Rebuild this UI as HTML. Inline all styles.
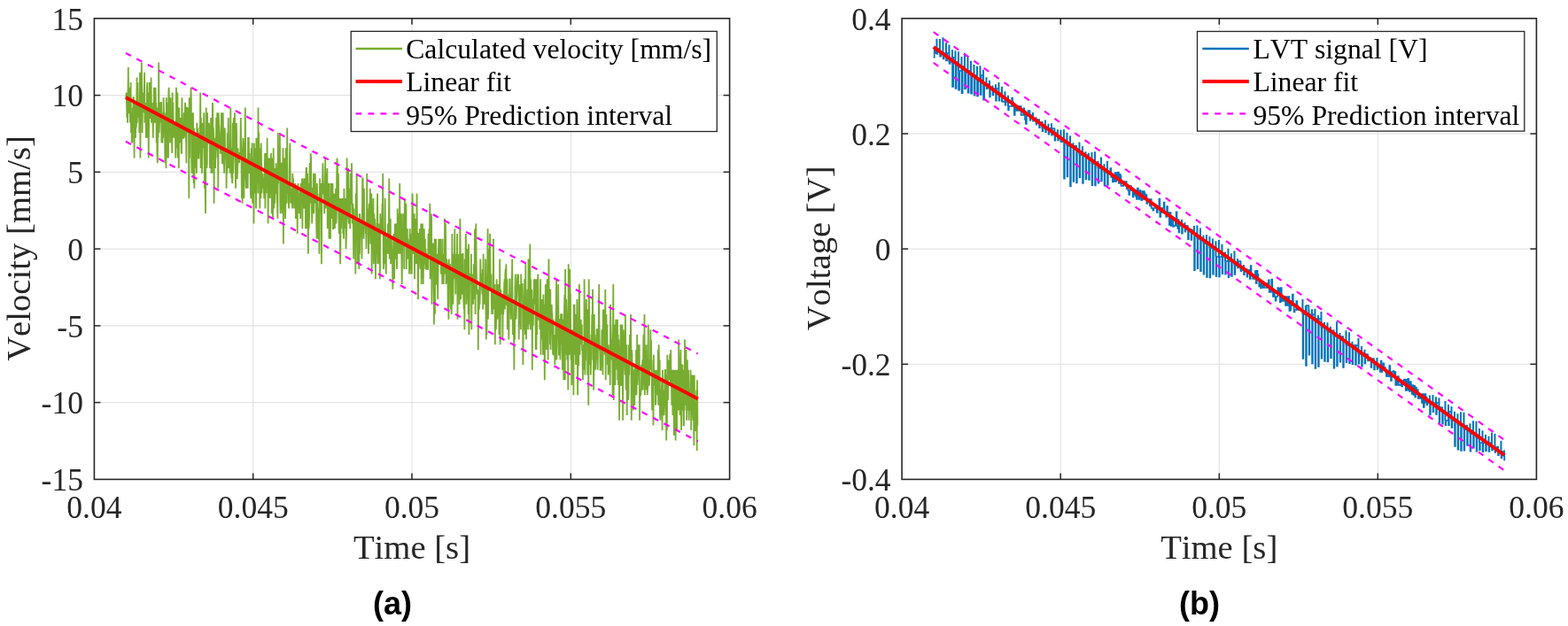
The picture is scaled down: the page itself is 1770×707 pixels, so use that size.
<!DOCTYPE html>
<html><head><meta charset="utf-8"><style>
html,body{margin:0;padding:0;background:#fff;}
body{width:1770px;height:707px;overflow:hidden;}
svg{display:block;font-kerning:none;}
.tk{font-family:"Liberation Serif",serif;font-size:35.5px;fill:#262626;}
.lab{font-family:"Liberation Serif",serif;font-size:38.7px;fill:#262626;}
.leg{font-family:"Liberation Serif",serif;font-size:31.7px;fill:#000;}
.let{font-family:"Liberation Sans",Arial,sans-serif;font-size:36px;font-weight:bold;fill:#000;}
</style></head><body>
<svg width="1770" height="707" viewBox="0 0 1770 707">
<rect width="1770" height="707" fill="#fff"/>

<line x1="285.7" y1="20.8" x2="285.7" y2="541.4" stroke="#dedede" stroke-width="1"/>
<line x1="465.0" y1="20.8" x2="465.0" y2="541.4" stroke="#dedede" stroke-width="1"/>
<line x1="644.3" y1="20.8" x2="644.3" y2="541.4" stroke="#dedede" stroke-width="1"/>
<line x1="106.4" y1="454.6" x2="823.6" y2="454.6" stroke="#dedede" stroke-width="1"/>
<line x1="106.4" y1="367.9" x2="823.6" y2="367.9" stroke="#dedede" stroke-width="1"/>
<line x1="106.4" y1="281.1" x2="823.6" y2="281.1" stroke="#dedede" stroke-width="1"/>
<line x1="106.4" y1="194.3" x2="823.6" y2="194.3" stroke="#dedede" stroke-width="1"/>
<line x1="106.4" y1="107.6" x2="823.6" y2="107.6" stroke="#dedede" stroke-width="1"/>
<line x1="1197.2" y1="20.8" x2="1197.2" y2="541.4" stroke="#dedede" stroke-width="1"/>
<line x1="1376.3" y1="20.8" x2="1376.3" y2="541.4" stroke="#dedede" stroke-width="1"/>
<line x1="1555.3" y1="20.8" x2="1555.3" y2="541.4" stroke="#dedede" stroke-width="1"/>
<line x1="1018.1" y1="411.3" x2="1734.4" y2="411.3" stroke="#dedede" stroke-width="1"/>
<line x1="1018.1" y1="281.1" x2="1734.4" y2="281.1" stroke="#dedede" stroke-width="1"/>
<line x1="1018.1" y1="151.0" x2="1734.4" y2="151.0" stroke="#dedede" stroke-width="1"/>
<polyline points="142.3,110.2 142.6,104.5 143.0,115.9 143.3,133.0 143.7,121.6 144.1,138.7 144.4,110.2 144.8,76.1 145.1,127.3 145.5,127.3 145.8,98.8 146.2,104.5 146.6,110.2 146.9,138.7 147.3,115.9 147.6,93.1 148.0,150.1 148.4,127.3 148.7,161.5 149.1,150.1 149.4,161.5 149.8,121.6 150.2,150.1 150.5,110.2 150.9,110.2 151.2,121.6 151.6,178.6 151.9,127.3 152.3,115.9 152.7,115.9 153.0,155.8 153.4,127.3 153.7,144.4 154.1,138.7 154.5,87.4 154.8,138.7 155.2,115.9 155.5,93.1 155.9,133.0 156.3,121.6 156.6,115.9 157.0,115.9 157.3,150.1 157.7,115.9 158.0,81.8 158.4,178.6 158.8,98.8 159.1,115.9 159.5,138.7 159.8,70.4 160.2,98.8 160.6,150.1 160.9,115.9 161.3,104.5 161.6,127.3 162.0,104.5 162.4,121.6 162.7,104.5 163.1,81.8 163.4,138.7 163.8,115.9 164.1,133.0 164.5,121.6 164.9,155.8 165.2,138.7 165.6,127.3 165.9,98.8 166.3,93.1 166.7,155.8 167.0,144.4 167.4,104.5 167.7,178.6 168.1,138.7 168.5,127.3 168.8,93.1 169.2,104.5 169.5,133.0 169.9,133.0 170.2,133.0 170.6,87.4 171.0,138.7 171.3,133.0 171.7,115.9 172.0,127.3 172.4,133.0 172.8,155.8 173.1,127.3 173.5,138.7 173.8,98.8 174.2,110.2 174.6,127.3 174.9,110.2 175.3,138.7 175.6,98.8 176.0,127.3 176.3,115.9 176.7,161.5 177.1,121.6 177.4,172.9 177.8,184.3 178.1,138.7 178.5,155.8 178.9,127.3 179.2,70.4 179.6,150.1 179.9,144.4 180.3,127.3 180.7,115.9 181.0,133.0 181.4,138.7 181.7,115.9 182.1,115.9 182.4,161.5 182.8,133.0 183.2,133.0 183.5,161.5 183.9,127.3 184.2,155.8 184.6,110.2 185.0,127.3 185.3,133.0 185.7,150.1 186.0,138.7 186.4,184.3 186.8,161.5 187.1,127.3 187.5,190.0 187.8,110.2 188.2,178.6 188.5,115.9 188.9,155.8 189.3,115.9 189.6,133.0 190.0,178.6 190.3,104.5 190.7,98.8 191.1,138.7 191.4,144.4 191.8,138.7 192.1,161.5 192.5,110.2 192.9,150.1 193.2,138.7 193.6,155.8 193.9,155.8 194.3,172.9 194.6,104.5 195.0,144.4 195.4,115.9 195.7,138.7 196.1,155.8 196.4,150.1 196.8,155.8 197.2,138.7 197.5,150.1 197.9,150.1 198.2,178.6 198.6,161.5 199.0,98.8 199.3,155.8 199.7,167.2 200.0,133.0 200.4,104.5 200.7,178.6 201.1,144.4 201.5,155.8 201.8,190.0 202.2,121.6 202.5,144.4 202.9,138.7 203.3,161.5 203.6,133.0 204.0,155.8 204.3,144.4 204.7,172.9 205.0,172.9 205.4,110.2 205.8,155.8 206.1,138.7 206.5,144.4 206.8,155.8 207.2,155.8 207.6,127.3 207.9,155.8 208.3,150.1 208.6,144.4 209.0,115.9 209.4,127.3 209.7,138.7 210.1,161.5 210.4,184.3 210.8,121.6 211.1,121.6 211.5,150.1 211.9,133.0 212.2,127.3 212.6,127.3 212.9,121.6 213.3,224.1 213.7,110.2 214.0,178.6 214.4,127.3 214.7,138.7 215.1,127.3 215.5,98.8 215.8,110.2 216.2,178.6 216.5,195.7 216.9,127.3 217.2,178.6 217.6,150.1 218.0,127.3 218.3,195.7 218.7,207.1 219.0,144.4 219.4,212.8 219.8,155.8 220.1,150.1 220.5,172.9 220.8,190.0 221.2,155.8 221.6,178.6 221.9,195.7 222.3,138.7 222.6,155.8 223.0,144.4 223.3,178.6 223.7,172.9 224.1,178.6 224.4,178.6 224.8,150.1 225.1,172.9 225.5,144.4 225.9,144.4 226.2,104.5 226.6,190.0 226.9,133.0 227.3,155.8 227.7,155.8 228.0,195.7 228.4,167.2 228.7,138.7 229.1,155.8 229.4,155.8 229.8,167.2 230.2,127.3 230.5,155.8 230.9,212.8 231.2,172.9 231.6,207.1 232.0,241.2 232.3,172.9 232.7,121.6 233.0,155.8 233.4,190.0 233.8,184.3 234.1,127.3 234.5,155.8 234.8,155.8 235.2,161.5 235.5,161.5 235.9,138.7 236.3,144.4 236.6,155.8 237.0,190.0 237.3,150.1 237.7,178.6 238.1,133.0 238.4,195.7 238.8,167.2 239.1,161.5 239.5,195.7 239.9,115.9 240.2,121.6 240.6,172.9 240.9,144.4 241.3,155.8 241.6,229.8 242.0,155.8 242.4,167.2 242.7,161.5 243.1,190.0 243.4,172.9 243.8,167.2 244.2,133.0 244.5,155.8 244.9,167.2 245.2,127.3 245.6,178.6 246.0,172.9 246.3,212.8 246.7,127.3 247.0,138.7 247.4,144.4 247.7,150.1 248.1,161.5 248.5,161.5 248.8,172.9 249.2,172.9 249.5,167.2 249.9,127.3 250.3,155.8 250.6,167.2 251.0,184.3 251.3,184.3 251.7,127.3 252.1,155.8 252.4,167.2 252.8,178.6 253.1,195.7 253.5,172.9 253.8,144.4 254.2,178.6 254.6,178.6 254.9,178.6 255.3,167.2 255.6,212.8 256.0,178.6 256.4,195.7 256.7,150.1 257.1,190.0 257.4,155.8 257.8,133.0 258.2,178.6 258.5,190.0 258.9,167.2 259.2,172.9 259.6,195.7 259.9,161.5 260.3,121.6 260.7,178.6 261.0,178.6 261.4,201.4 261.7,167.2 262.1,207.1 262.5,201.4 262.8,138.7 263.2,195.7 263.5,144.4 263.9,133.0 264.3,167.2 264.6,161.5 265.0,127.3 265.3,178.6 265.7,190.0 266.0,212.8 266.4,172.9 266.8,138.7 267.1,150.1 267.5,201.4 267.8,201.4 268.2,190.0 268.6,167.2 268.9,184.3 269.3,172.9 269.6,172.9 270.0,184.3 270.4,178.6 270.7,172.9 271.1,178.6 271.4,167.2 271.8,133.0 272.1,161.5 272.5,178.6 272.9,224.1 273.2,167.2 273.6,229.8 273.9,218.4 274.3,155.8 274.7,161.5 275.0,184.3 275.4,224.1 275.7,190.0 276.1,201.4 276.5,167.2 276.8,121.6 277.2,178.6 277.5,201.4 277.9,212.8 278.2,184.3 278.6,190.0 279.0,212.8 279.3,178.6 279.7,212.8 280.0,155.8 280.4,155.8 280.8,155.8 281.1,195.7 281.5,172.9 281.8,190.0 282.2,195.7 282.6,195.7 282.9,218.4 283.3,224.1 283.6,167.2 284.0,190.0 284.3,178.6 284.7,161.5 285.1,229.8 285.4,207.1 285.8,184.3 286.1,178.6 286.5,252.6 286.9,161.5 287.2,184.3 287.6,218.4 287.9,212.8 288.3,167.2 288.7,178.6 289.0,235.5 289.4,155.8 289.7,172.9 290.1,155.8 290.4,201.4 290.8,195.7 291.2,218.4 291.5,121.6 291.9,195.7 292.2,150.1 292.6,207.1 293.0,184.3 293.3,235.5 293.7,201.4 294.0,167.2 294.4,224.1 294.7,161.5 295.1,184.3 295.5,218.4 295.8,207.1 296.2,201.4 296.5,195.7 296.9,207.1 297.3,212.8 297.6,201.4 298.0,218.4 298.3,224.1 298.7,195.7 299.1,172.9 299.4,235.5 299.8,195.7 300.1,212.8 300.5,218.4 300.8,172.9 301.2,207.1 301.6,155.8 301.9,212.8 302.3,184.3 302.6,252.6 303.0,212.8 303.4,178.6 303.7,201.4 304.1,178.6 304.4,195.7 304.8,224.1 305.2,201.4 305.5,195.7 305.9,172.9 306.2,218.4 306.6,195.7 306.9,241.2 307.3,178.6 307.7,224.1 308.0,246.9 308.4,201.4 308.7,167.2 309.1,235.5 309.5,229.8 309.8,218.4 310.2,229.8 310.5,190.0 310.9,218.4 311.3,218.4 311.6,184.3 312.0,218.4 312.3,190.0 312.7,224.1 313.0,229.8 313.4,246.9 313.8,150.1 314.1,207.1 314.5,195.7 314.8,201.4 315.2,195.7 315.6,201.4 315.9,150.1 316.3,229.8 316.6,241.2 317.0,229.8 317.4,235.5 317.7,184.3 318.1,184.3 318.4,229.8 318.8,241.2 319.1,212.8 319.5,167.2 319.9,275.4 320.2,190.0 320.6,235.5 320.9,178.6 321.3,235.5 321.7,212.8 322.0,246.9 322.4,229.8 322.7,167.2 323.1,184.3 323.5,218.4 323.8,229.8 324.2,144.4 324.5,218.4 324.9,207.1 325.2,207.1 325.6,207.1 326.0,235.5 326.3,207.1 326.7,207.1 327.0,172.9 327.4,161.5 327.8,212.8 328.1,229.8 328.5,212.8 328.8,224.1 329.2,229.8 329.6,212.8 329.9,235.5 330.3,195.7 330.6,212.8 331.0,201.4 331.3,212.8 331.7,229.8 332.1,235.5 332.4,218.4 332.8,224.1 333.1,207.1 333.5,212.8 333.9,246.9 334.2,212.8 334.6,246.9 334.9,229.8 335.3,218.4 335.7,264.0 336.0,212.8 336.4,207.1 336.7,218.4 337.1,224.1 337.4,224.1 337.8,241.2 338.2,218.4 338.5,229.8 338.9,212.8 339.2,246.9 339.6,207.1 340.0,212.8 340.3,218.4 340.7,224.1 341.0,201.4 341.4,258.3 341.8,201.4 342.1,207.1 342.5,207.1 342.8,207.1 343.2,235.5 343.5,224.1 343.9,201.4 344.3,207.1 344.6,212.8 345.0,258.3 345.3,201.4 345.7,190.0 346.1,190.0 346.4,212.8 346.8,258.3 347.1,195.7 347.5,224.1 347.9,286.8 348.2,207.1 348.6,258.3 348.9,252.6 349.3,235.5 349.6,184.3 350.0,229.8 350.4,212.8 350.7,172.9 351.1,178.6 351.4,224.1 351.8,229.8 352.2,252.6 352.5,241.2 352.9,212.8 353.2,212.8 353.6,218.4 354.0,195.7 354.3,241.2 354.7,224.1 355.0,201.4 355.4,207.1 355.7,195.7 356.1,212.8 356.5,229.8 356.8,212.8 357.2,252.6 357.5,269.7 357.9,207.1 358.3,224.1 358.6,218.4 359.0,269.7 359.3,235.5 359.7,241.2 360.1,246.9 360.4,286.8 360.8,235.5 361.1,201.4 361.5,218.4 361.8,241.2 362.2,229.8 362.6,207.1 362.9,298.2 363.3,229.8 363.6,212.8 364.0,207.1 364.4,184.3 364.7,195.7 365.1,218.4 365.4,218.4 365.8,207.1 366.2,241.2 366.5,229.8 366.9,207.1 367.2,178.6 367.6,235.5 367.9,229.8 368.3,224.1 368.7,195.7 369.0,229.8 369.4,190.0 369.7,258.3 370.1,235.5 370.5,235.5 370.8,212.8 371.2,207.1 371.5,269.7 371.9,258.3 372.3,224.1 372.6,246.9 373.0,269.7 373.3,207.1 373.7,218.4 374.0,218.4 374.4,246.9 374.8,207.1 375.1,241.2 375.5,207.1 375.8,258.3 376.2,258.3 376.6,229.8 376.9,252.6 377.3,218.4 377.6,229.8 378.0,258.3 378.3,235.5 378.7,246.9 379.1,212.8 379.4,252.6 379.8,246.9 380.1,207.1 380.5,178.6 380.9,184.3 381.2,235.5 381.6,229.8 381.9,195.7 382.3,241.2 382.7,264.0 383.0,235.5 383.4,224.1 383.7,258.3 384.1,298.2 384.4,275.4 384.8,224.1 385.2,258.3 385.5,241.2 385.9,235.5 386.2,224.1 386.6,246.9 387.0,224.1 387.3,264.0 387.7,246.9 388.0,269.7 388.4,212.8 388.8,241.2 389.1,258.3 389.5,252.6 389.8,246.9 390.2,224.1 390.5,281.1 390.9,269.7 391.3,252.6 391.6,178.6 392.0,218.4 392.3,246.9 392.7,224.1 393.1,190.0 393.4,246.9 393.8,252.6 394.1,212.8 394.5,229.8 394.9,224.1 395.2,258.3 395.6,195.7 395.9,201.4 396.3,229.8 396.6,229.8 397.0,184.3 397.4,229.8 397.7,252.6 398.1,235.5 398.4,229.8 398.8,252.6 399.2,292.5 399.5,235.5 399.9,264.0 400.2,252.6 400.6,264.0 401.0,258.3 401.3,309.6 401.7,218.4 402.0,241.2 402.4,218.4 402.7,195.7 403.1,246.9 403.5,298.2 403.8,269.7 404.2,281.1 404.5,264.0 404.9,246.9 405.3,303.9 405.6,241.2 406.0,286.8 406.3,241.2 406.7,252.6 407.1,258.3 407.4,252.6 407.8,264.0 408.1,269.7 408.5,292.5 408.8,252.6 409.2,201.4 409.6,201.4 409.9,218.4 410.3,235.5 410.6,269.7 411.0,212.8 411.4,252.6 411.7,252.6 412.1,258.3 412.4,252.6 412.8,264.0 413.2,258.3 413.5,281.1 413.9,264.0 414.2,195.7 414.6,258.3 414.9,258.3 415.3,241.2 415.7,235.5 416.0,286.8 416.4,258.3 416.7,229.8 417.1,246.9 417.5,252.6 417.8,212.8 418.2,275.4 418.5,252.6 418.9,269.7 419.3,218.4 419.6,309.6 420.0,275.4 420.3,269.7 420.7,241.2 421.0,241.2 421.4,224.1 421.8,298.2 422.1,241.2 422.5,264.0 422.8,275.4 423.2,246.9 423.6,281.1 423.9,315.3 424.3,269.7 424.6,298.2 425.0,275.4 425.4,252.6 425.7,252.6 426.1,218.4 426.4,264.0 426.8,298.2 427.1,281.1 427.5,286.8 427.9,292.5 428.2,252.6 428.6,281.1 428.9,315.3 429.3,241.2 429.7,264.0 430.0,252.6 430.4,258.3 430.7,246.9 431.1,264.0 431.5,229.8 431.8,252.6 432.2,195.7 432.5,252.6 432.9,303.9 433.2,269.7 433.6,269.7 434.0,258.3 434.3,298.2 434.7,224.1 435.0,264.0 435.4,298.2 435.8,309.6 436.1,275.4 436.5,269.7 436.8,286.8 437.2,264.0 437.6,281.1 437.9,252.6 438.3,286.8 438.6,269.7 439.0,241.2 439.3,201.4 439.7,292.5 440.1,281.1 440.4,292.5 440.8,246.9 441.1,298.2 441.5,281.1 441.9,269.7 442.2,292.5 442.6,292.5 442.9,281.1 443.3,326.7 443.7,309.6 444.0,281.1 444.4,264.0 444.7,275.4 445.1,315.3 445.4,281.1 445.8,252.6 446.2,258.3 446.5,275.4 446.9,292.5 447.2,252.6 447.6,286.8 448.0,303.9 448.3,292.5 448.7,235.5 449.0,264.0 449.4,241.2 449.8,286.8 450.1,246.9 450.5,286.8 450.8,275.4 451.2,207.1 451.5,252.6 451.9,286.8 452.3,275.4 452.6,264.0 453.0,241.2 453.3,286.8 453.7,321.0 454.1,281.1 454.4,275.4 454.8,275.4 455.1,241.2 455.5,269.7 455.9,252.6 456.2,303.9 456.6,252.6 456.9,224.1 457.3,258.3 457.6,269.7 458.0,275.4 458.4,229.8 458.7,303.9 459.1,281.1 459.4,264.0 459.8,258.3 460.2,292.5 460.5,269.7 460.9,286.8 461.2,275.4 461.6,281.1 462.0,309.6 462.3,281.1 462.7,258.3 463.0,303.9 463.4,286.8 463.7,264.0 464.1,309.6 464.5,275.4 464.8,309.6 465.2,252.6 465.5,218.4 465.9,229.8 466.3,286.8 466.6,264.0 467.0,281.1 467.3,281.1 467.7,241.2 468.0,315.3 468.4,252.6 468.8,286.8 469.1,246.9 469.5,281.1 469.8,298.2 470.2,275.4 470.6,218.4 470.9,281.1 471.3,269.7 471.6,298.2 472.0,338.1 472.4,264.0 472.7,264.0 473.1,281.1 473.4,281.1 473.8,258.3 474.1,298.2 474.5,303.9 474.9,292.5 475.2,252.6 475.6,321.0 475.9,258.3 476.3,303.9 476.7,315.3 477.0,252.6 477.4,292.5 477.7,321.0 478.1,298.2 478.5,264.0 478.8,258.3 479.2,298.2 479.5,275.4 479.9,269.7 480.2,303.9 480.6,281.1 481.0,292.5 481.3,303.9 481.7,303.9 482.0,286.8 482.4,286.8 482.8,303.9 483.1,303.9 483.5,264.0 483.8,286.8 484.2,269.7 484.6,258.3 484.9,275.4 485.3,229.8 485.6,315.3 486.0,269.7 486.3,298.2 486.7,241.2 487.1,246.9 487.4,343.8 487.8,321.0 488.1,275.4 488.5,275.4 488.9,275.4 489.2,298.2 489.6,281.1 489.9,366.5 490.3,298.2 490.7,269.7 491.0,355.1 491.4,281.1 491.7,321.0 492.1,269.7 492.4,303.9 492.8,321.0 493.2,286.8 493.5,321.0 493.9,321.0 494.2,338.1 494.6,298.2 495.0,281.1 495.3,269.7 495.7,298.2 496.0,269.7 496.4,298.2 496.8,298.2 497.1,281.1 497.5,269.7 497.8,309.6 498.2,303.9 498.5,303.9 498.9,298.2 499.3,321.0 499.6,269.7 500.0,309.6 500.3,286.8 500.7,321.0 501.1,292.5 501.4,292.5 501.8,309.6 502.1,246.9 502.5,292.5 502.9,252.6 503.2,275.4 503.6,321.0 503.9,309.6 504.3,292.5 504.6,298.2 505.0,298.2 505.4,309.6 505.7,349.4 506.1,309.6 506.4,360.8 506.8,292.5 507.2,321.0 507.5,321.0 507.9,309.6 508.2,298.2 508.6,343.8 509.0,349.4 509.3,332.4 509.7,355.1 510.0,332.4 510.4,264.0 510.7,332.4 511.1,286.8 511.5,343.8 511.8,298.2 512.2,315.3 512.5,309.6 512.9,292.5 513.3,258.3 513.6,303.9 514.0,303.9 514.3,332.4 514.7,292.5 515.1,315.3 515.4,286.8 515.8,309.6 516.1,264.0 516.5,360.8 516.8,315.3 517.2,286.8 517.6,315.3 517.9,326.7 518.3,315.3 518.6,343.8 519.0,303.9 519.4,246.9 519.7,281.1 520.1,338.1 520.4,332.4 520.8,321.0 521.2,286.8 521.5,332.4 521.9,326.7 522.2,286.8 522.6,286.8 522.9,321.0 523.3,338.1 523.7,349.4 524.0,332.4 524.4,372.2 524.7,292.5 525.1,326.7 525.5,298.2 525.8,264.0 526.2,281.1 526.5,343.8 526.9,292.5 527.3,281.1 527.6,332.4 528.0,338.1 528.3,315.3 528.7,355.1 529.0,275.4 529.4,377.9 529.8,343.8 530.1,321.0 530.5,321.0 530.8,309.6 531.2,309.6 531.6,321.0 531.9,286.8 532.3,372.2 532.6,315.3 533.0,338.1 533.4,315.3 533.7,309.6 534.1,343.8 534.4,332.4 534.8,298.2 535.1,309.6 535.5,338.1 535.9,264.0 536.2,258.3 536.6,355.1 536.9,309.6 537.3,252.6 537.7,298.2 538.0,315.3 538.4,326.7 538.7,332.4 539.1,326.7 539.5,332.4 539.8,395.0 540.2,332.4 540.5,332.4 540.9,349.4 541.2,321.0 541.6,343.8 542.0,326.7 542.3,292.5 542.7,309.6 543.0,309.6 543.4,315.3 543.8,321.0 544.1,326.7 544.5,332.4 544.8,303.9 545.2,349.4 545.6,286.8 545.9,321.0 546.3,343.8 546.6,338.1 547.0,343.8 547.3,321.0 547.7,343.8 548.1,292.5 548.4,343.8 548.8,383.6 549.1,343.8 549.5,377.9 549.9,326.7 550.2,298.2 550.6,258.3 550.9,360.8 551.3,343.8 551.7,281.1 552.0,321.0 552.4,326.7 552.7,298.2 553.1,264.0 553.4,292.5 553.8,326.7 554.2,321.0 554.5,309.6 554.9,343.8 555.2,355.1 555.6,326.7 556.0,355.1 556.3,332.4 556.7,326.7 557.0,269.7 557.4,349.4 557.7,332.4 558.1,332.4 558.5,321.0 558.8,389.3 559.2,343.8 559.5,349.4 559.9,372.2 560.3,355.1 560.6,315.3 561.0,332.4 561.3,360.8 561.7,343.8 562.1,332.4 562.4,321.0 562.8,349.4 563.1,338.1 563.5,377.9 563.8,360.8 564.2,292.5 564.6,389.3 564.9,343.8 565.3,326.7 565.6,343.8 566.0,355.1 566.4,338.1 566.7,332.4 567.1,338.1 567.4,383.6 567.8,338.1 568.2,355.1 568.5,349.4 568.9,332.4 569.2,321.0 569.6,315.3 569.9,349.4 570.3,309.6 570.7,303.9 571.0,309.6 571.4,298.2 571.7,343.8 572.1,343.8 572.5,315.3 572.8,372.2 573.2,332.4 573.5,349.4 573.9,349.4 574.3,383.6 574.6,360.8 575.0,338.1 575.3,315.3 575.7,315.3 576.0,343.8 576.4,343.8 576.8,360.8 577.1,332.4 577.5,349.4 577.8,326.7 578.2,292.5 578.6,343.8 578.9,377.9 579.3,360.8 579.6,377.9 580.0,372.2 580.4,417.8 580.7,338.1 581.1,383.6 581.4,326.7 581.8,309.6 582.1,349.4 582.5,360.8 582.9,349.4 583.2,338.1 583.6,326.7 583.9,315.3 584.3,309.6 584.7,315.3 585.0,309.6 585.4,326.7 585.7,383.6 586.1,349.4 586.5,338.1 586.8,355.1 587.2,321.0 587.5,355.1 587.9,372.2 588.2,309.6 588.6,326.7 589.0,338.1 589.3,321.0 589.7,321.0 590.0,338.1 590.4,412.1 590.8,366.5 591.1,360.8 591.5,372.2 591.8,343.8 592.2,315.3 592.6,360.8 592.9,377.9 593.3,298.2 593.6,360.8 594.0,383.6 594.3,343.8 594.7,338.1 595.1,366.5 595.4,326.7 595.8,360.8 596.1,372.2 596.5,292.5 596.9,332.4 597.2,366.5 597.6,343.8 597.9,355.1 598.3,275.4 598.7,372.2 599.0,315.3 599.4,355.1 599.7,355.1 600.1,332.4 600.4,326.7 600.8,417.8 601.2,343.8 601.5,366.5 601.9,366.5 602.2,338.1 602.6,338.1 603.0,315.3 603.3,343.8 603.7,326.7 604.0,315.3 604.4,349.4 604.8,395.0 605.1,383.6 605.5,395.0 605.8,315.3 606.2,377.9 606.5,321.0 606.9,338.1 607.3,309.6 607.6,332.4 608.0,360.8 608.3,360.8 608.7,355.1 609.1,355.1 609.4,372.2 609.8,360.8 610.1,315.3 610.5,400.7 610.9,349.4 611.2,383.6 611.6,355.1 611.9,338.1 612.3,360.8 612.6,338.1 613.0,400.7 613.4,332.4 613.7,372.2 614.1,343.8 614.4,355.1 614.8,429.2 615.2,377.9 615.5,355.1 615.9,321.0 616.2,355.1 616.6,355.1 617.0,395.0 617.3,326.7 617.7,315.3 618.0,360.8 618.4,366.5 618.7,406.4 619.1,338.1 619.5,292.5 619.8,343.8 620.2,332.4 620.5,349.4 620.9,389.3 621.3,326.7 621.6,395.0 622.0,366.5 622.3,355.1 622.7,343.8 623.1,355.1 623.4,355.1 623.8,383.6 624.1,400.7 624.5,360.8 624.8,383.6 625.2,400.7 625.6,400.7 625.9,377.9 626.3,412.1 626.6,400.7 627.0,406.4 627.4,360.8 627.7,355.1 628.1,315.3 628.4,406.4 628.8,383.6 629.2,343.8 629.5,372.2 629.9,377.9 630.2,321.0 630.6,377.9 630.9,400.7 631.3,400.7 631.7,360.8 632.0,360.8 632.4,406.4 632.7,395.0 633.1,355.1 633.5,355.1 633.8,389.3 634.2,355.1 634.5,355.1 634.9,417.8 635.3,377.9 635.6,360.8 636.0,383.6 636.3,429.2 636.7,377.9 637.0,349.4 637.4,332.4 637.8,429.2 638.1,303.9 638.5,400.7 638.8,349.4 639.2,338.1 639.6,349.4 639.9,366.5 640.3,406.4 640.6,355.1 641.0,395.0 641.3,440.6 641.7,298.2 642.1,355.1 642.4,326.7 642.8,400.7 643.1,303.9 643.5,332.4 643.9,332.4 644.2,377.9 644.6,406.4 644.9,377.9 645.3,434.9 645.7,417.8 646.0,372.2 646.4,400.7 646.7,383.6 647.1,377.9 647.4,446.3 647.8,343.8 648.2,377.9 648.5,343.8 648.9,400.7 649.2,389.3 649.6,355.1 650.0,412.1 650.3,383.6 650.7,412.1 651.0,377.9 651.4,338.1 651.8,400.7 652.1,446.3 652.5,400.7 652.8,412.1 653.2,412.1 653.5,343.8 653.9,321.0 654.3,366.5 654.6,400.7 655.0,360.8 655.3,389.3 655.7,360.8 656.1,372.2 656.4,372.2 656.8,366.5 657.1,395.0 657.5,395.0 657.9,429.2 658.2,395.0 658.6,417.8 658.9,389.3 659.3,406.4 659.6,315.3 660.0,372.2 660.4,423.5 660.7,406.4 661.1,406.4 661.4,366.5 661.8,338.1 662.2,360.8 662.5,395.0 662.9,349.4 663.2,423.5 663.6,349.4 664.0,400.7 664.3,457.7 664.7,315.3 665.0,343.8 665.4,412.1 665.7,383.6 666.1,395.0 666.5,383.6 666.8,423.5 667.2,406.4 667.5,377.9 667.9,383.6 668.3,355.1 668.6,383.6 669.0,326.7 669.3,406.4 669.7,383.6 670.1,440.6 670.4,423.5 670.8,355.1 671.1,412.1 671.5,377.9 671.8,389.3 672.2,417.8 672.6,400.7 672.9,406.4 673.3,400.7 673.6,372.2 674.0,372.2 674.4,406.4 674.7,417.8 675.1,383.6 675.4,395.0 675.8,366.5 676.2,321.0 676.5,372.2 676.9,395.0 677.2,395.0 677.6,417.8 677.9,417.8 678.3,417.8 678.7,406.4 679.0,406.4 679.4,372.2 679.7,406.4 680.1,400.7 680.5,423.5 680.8,349.4 681.2,383.6 681.5,349.4 681.9,372.2 682.3,355.1 682.6,400.7 683.0,377.9 683.3,326.7 683.7,429.2 684.0,366.5 684.4,355.1 684.8,383.6 685.1,377.9 685.5,366.5 685.8,412.1 686.2,389.3 686.6,423.5 686.9,417.8 687.3,412.1 687.6,400.7 688.0,395.0 688.4,389.3 688.7,434.9 689.1,343.8 689.4,366.5 689.8,377.9 690.1,406.4 690.5,400.7 690.9,383.6 691.2,389.3 691.6,446.3 691.9,383.6 692.3,321.0 692.7,452.0 693.0,372.2 693.4,389.3 693.7,406.4 694.1,366.5 694.5,434.9 694.8,395.0 695.2,360.8 695.5,406.4 695.9,412.1 696.2,400.7 696.6,417.8 697.0,360.8 697.3,429.2 697.7,377.9 698.0,434.9 698.4,383.6 698.8,406.4 699.1,474.8 699.5,406.4 699.8,434.9 700.2,417.8 700.6,366.5 700.9,434.9 701.3,434.9 701.6,366.5 702.0,400.7 702.3,366.5 702.7,395.0 703.1,474.8 703.4,406.4 703.8,372.2 704.1,383.6 704.5,406.4 704.9,406.4 705.2,412.1 705.6,423.5 705.9,355.1 706.3,406.4 706.7,440.6 707.0,423.5 707.4,389.3 707.7,469.1 708.1,412.1 708.4,429.2 708.8,406.4 709.2,452.0 709.5,446.3 709.9,389.3 710.2,423.5 710.6,400.7 711.0,377.9 711.3,395.0 711.7,412.1 712.0,355.1 712.4,395.0 712.8,474.8 713.1,395.0 713.5,400.7 713.8,434.9 714.2,412.1 714.5,417.8 714.9,463.4 715.3,417.8 715.6,423.5 716.0,423.5 716.3,457.7 716.7,423.5 717.1,412.1 717.4,412.1 717.8,446.3 718.1,395.0 718.5,446.3 718.9,423.5 719.2,377.9 719.6,434.9 719.9,429.2 720.3,389.3 720.6,423.5 721.0,423.5 721.4,412.1 721.7,389.3 722.1,474.8 722.4,440.6 722.8,446.3 723.2,446.3 723.5,440.6 723.9,440.6 724.2,412.1 724.6,440.6 725.0,412.1 725.3,406.4 725.7,440.6 726.0,417.8 726.4,377.9 726.7,412.1 727.1,434.9 727.5,355.1 727.8,446.3 728.2,412.1 728.5,395.0 728.9,440.6 729.3,423.5 729.6,389.3 730.0,434.9 730.3,417.8 730.7,446.3 731.0,440.6 731.4,434.9 731.8,366.5 732.1,434.9 732.5,434.9 732.8,434.9 733.2,429.2 733.6,406.4 733.9,417.8 734.3,372.2 734.6,417.8 735.0,383.6 735.4,417.8 735.7,406.4 736.1,463.4 736.4,429.2 736.8,423.5 737.1,429.2 737.5,480.4 737.9,400.7 738.2,434.9 738.6,434.9 738.9,434.9 739.3,429.2 739.7,417.8 740.0,457.7 740.4,452.0 740.7,417.8 741.1,423.5 741.5,434.9 741.8,440.6 742.2,446.3 742.5,429.2 742.9,395.0 743.2,457.7 743.6,389.3 744.0,406.4 744.3,440.6 744.7,406.4 745.0,469.1 745.4,474.8 745.8,463.4 746.1,440.6 746.5,440.6 746.8,440.6 747.2,429.2 747.6,486.1 747.9,417.8 748.3,469.1 748.6,446.3 749.0,440.6 749.3,463.4 749.7,469.1 750.1,457.7 750.4,429.2 750.8,417.8 751.1,417.8 751.5,457.7 751.9,452.0 752.2,497.5 752.6,423.5 752.9,486.1 753.3,400.7 753.7,446.3 754.0,452.0 754.4,423.5 754.7,406.4 755.1,423.5 755.4,406.4 755.8,429.2 756.2,400.7 756.5,400.7 756.9,434.9 757.2,395.0 757.6,429.2 758.0,434.9 758.3,457.7 758.7,440.6 759.0,417.8 759.4,469.1 759.8,417.8 760.1,429.2 760.5,429.2 760.8,491.8 761.2,440.6 761.5,417.8 761.9,457.7 762.3,434.9 762.6,497.5 763.0,417.8 763.3,457.7 763.7,417.8 764.1,486.1 764.4,423.5 764.8,446.3 765.1,417.8 765.5,463.4 765.9,457.7 766.2,383.6 766.6,463.4 766.9,457.7 767.3,446.3 767.6,469.1 768.0,412.1 768.4,395.0 768.7,457.7 769.1,486.1 769.4,412.1 769.8,412.1 770.2,417.8 770.5,412.1 770.9,463.4 771.2,446.3 771.6,480.4 772.0,480.4 772.3,417.8 772.7,463.4 773.0,383.6 773.4,440.6 773.7,457.7 774.1,423.5 774.5,395.0 774.8,429.2 775.2,474.8 775.5,434.9 775.9,406.4 776.3,457.7 776.6,463.4 777.0,417.8 777.3,440.6 777.7,474.8 778.1,457.7 778.4,463.4 778.8,440.6 779.1,446.3 779.5,417.8 779.8,429.2 780.2,486.1 780.6,434.9 780.9,423.5 781.3,434.9 781.6,423.5 782.0,463.4 782.4,474.8 782.7,423.5 783.1,474.8 783.4,503.2 783.8,423.5 784.2,469.1 784.5,457.7 784.9,486.1 785.2,486.1 785.6,480.4 785.9,457.7 786.3,440.6 786.7,508.9 787.0,429.2 787.4,480.4 787.7,480.4" fill="none" stroke="#77ac30" stroke-width="1.8" stroke-linejoin="miter"/>
<line x1="141.9" y1="59.9" x2="787.9" y2="399.6" stroke="#ff00ff" stroke-width="2.2" stroke-dasharray="6.8 7.2"/>
<line x1="141.9" y1="159.8" x2="787.9" y2="498.5" stroke="#ff00ff" stroke-width="2.2" stroke-dasharray="6.8 7.2"/>
<line x1="141.9" y1="110.0" x2="787.9" y2="450.5" stroke="#ff0000" stroke-width="4.0" stroke-linecap="butt"/>
<path d="M1053.8,65.0 L1054.7,65.0 L1054.7,55.0 L1055.5,55.0 L1055.5,55.0 L1056.4,55.0 L1056.4,60.0 L1057.3,60.0 L1057.3,55.0 L1057.3,44.6 L1057.6,44.6 L1057.6,61.0 L1058.3,61.0 L1058.3,55.0 L1060.8,55.0 L1060.8,60.0 L1060.8,44.9 L1061.1,44.9 L1061.1,63.7 L1062.1,63.7 L1062.1,60.0 L1064.3,60.0 L1064.3,60.0 L1064.3,43.0 L1064.6,43.0 L1064.6,66.4 L1065.6,66.4 L1065.6,60.0 L1067.8,60.0 L1067.8,60.0 L1067.8,49.1 L1068.1,49.1 L1068.1,68.4 L1069.1,68.4 L1069.1,60.0 L1071.3,60.0 L1071.3,70.0 L1071.3,51.3 L1071.6,51.3 L1071.6,71.9 L1072.6,71.9 L1072.6,70.0 L1074.8,70.0 L1074.8,65.0 L1074.8,57.0 L1075.1,57.0 L1075.1,97.9 L1076.1,97.9 L1076.1,65.0 L1078.3,65.0 L1078.3,70.0 L1078.3,58.2 L1078.6,58.2 L1078.6,99.8 L1079.6,99.8 L1079.6,70.0 L1081.8,70.0 L1081.8,80.0 L1081.8,59.0 L1082.1,59.0 L1082.1,101.7 L1083.1,101.7 L1083.1,80.0 L1085.3,80.0 L1085.3,75.0 L1085.3,64.9 L1085.6,64.9 L1085.6,105.2 L1086.6,105.2 L1086.6,75.0 L1088.8,75.0 L1088.8,80.0 L1088.8,60.7 L1089.1,60.7 L1089.1,100.2 L1090.1,100.2 L1090.1,80.0 L1092.3,80.0 L1092.3,80.0 L1092.3,65.4 L1092.6,65.4 L1092.6,104.6 L1093.6,104.6 L1093.6,80.0 L1095.8,80.0 L1095.8,85.0 L1095.8,69.6 L1096.1,69.6 L1096.1,105.6 L1097.1,105.6 L1097.1,85.0 L1099.3,85.0 L1099.3,85.0 L1099.3,73.9 L1099.6,73.9 L1099.6,107.7 L1100.6,107.7 L1100.6,85.0 L1102.8,85.0 L1102.8,90.0 L1102.8,75.6 L1103.1,75.6 L1103.1,108.3 L1104.1,108.3 L1104.1,90.0 L1106.3,90.0 L1106.3,85.0 L1106.3,75.2 L1106.6,75.2 L1106.6,106.8 L1107.6,106.8 L1107.6,85.0 L1109.8,85.0 L1109.8,95.0 L1109.8,79.7 L1110.1,79.7 L1110.1,112.6 L1111.1,112.6 L1111.1,95.0 L1113.3,95.0 L1113.3,95.0 L1113.3,88.1 L1113.6,88.1 L1113.6,100.2 L1114.6,100.2 L1114.6,95.0 L1116.8,95.0 L1116.8,100.0 L1116.8,91.6 L1117.1,91.6 L1117.1,109.4 L1117.8,109.4 L1117.8,100.0 L1120.3,100.0 L1120.3,100.0 L1120.3,97.4 L1120.6,97.4 L1120.6,107.5 L1121.3,107.5 L1121.3,100.0 L1123.8,100.0 L1123.8,100.0 L1123.8,96.1 L1124.1,96.1 L1124.1,113.6 L1124.8,113.6 L1124.8,100.0 L1127.3,100.0 L1127.3,105.0 L1127.3,93.8 L1127.6,93.8 L1127.6,113.6 L1128.3,113.6 L1128.3,105.0 L1130.8,105.0 L1130.8,115.0 L1130.8,98.7 L1131.1,98.7 L1131.1,114.3 L1131.8,114.3 L1131.8,115.0 L1134.3,115.0 L1134.3,115.0 L1134.3,104.0 L1134.6,104.0 L1134.6,118.6 L1135.3,118.6 L1135.3,115.0 L1137.8,115.0 L1137.8,120.0 L1137.8,108.7 L1138.1,108.7 L1138.1,124.5 L1138.8,124.5 L1138.8,120.0 L1141.3,120.0 L1141.3,120.0 L1142.2,120.0 L1142.2,110.7 L1143.0,110.7 L1143.0,115.0 L1143.9,115.0 L1143.9,120.0 L1144.8,120.0 L1144.8,130.0 L1145.7,130.0 L1145.7,120.0 L1146.5,120.0 L1146.5,123.9 L1147.4,123.9 L1147.4,125.0 L1148.3,125.0 L1148.3,120.0 L1149.2,120.0 L1149.2,125.0 L1150.0,125.0 L1150.0,120.0 L1150.9,120.0 L1150.9,125.0 L1151.8,125.0 L1151.8,120.0 L1152.7,120.0 L1152.7,130.0 L1153.5,130.0 L1153.5,130.0 L1154.4,130.0 L1154.4,130.0 L1155.3,130.0 L1155.3,122.4 L1156.2,122.4 L1156.2,125.0 L1157.0,125.0 L1157.0,135.0 L1157.9,135.0 L1157.9,140.0 L1158.8,140.0 L1158.8,130.0 L1159.7,130.0 L1159.7,130.0 L1160.5,130.0 L1160.5,125.0 L1161.4,125.0 L1161.4,125.0 L1162.3,125.0 L1162.3,130.0 L1162.3,126.2 L1162.6,126.2 L1162.6,135.8 L1163.3,135.8 L1163.3,130.0 L1165.8,130.0 L1165.8,135.0 L1165.8,127.8 L1166.1,127.8 L1166.1,136.7 L1166.8,136.7 L1166.8,135.0 L1169.3,135.0 L1169.3,135.0 L1169.3,133.2 L1169.6,133.2 L1169.6,140.6 L1170.3,140.6 L1170.3,135.0 L1172.8,135.0 L1172.8,140.0 L1172.8,135.2 L1173.1,135.2 L1173.1,144.2 L1173.8,144.2 L1173.8,140.0 L1176.3,140.0 L1176.3,145.0 L1176.3,137.8 L1176.6,137.8 L1176.6,148.2 L1177.3,148.2 L1177.3,145.0 L1179.8,145.0 L1179.8,145.0 L1179.8,136.3 L1180.1,136.3 L1180.1,149.1 L1180.8,149.1 L1180.8,145.0 L1183.3,145.0 L1183.3,145.0 L1183.3,140.7 L1183.6,140.7 L1183.6,151.7 L1184.3,151.7 L1184.3,145.0 L1186.8,145.0 L1186.8,145.0 L1186.8,140.1 L1187.1,140.1 L1187.1,152.6 L1187.8,152.6 L1187.8,145.0 L1190.3,145.0 L1190.3,150.0 L1190.3,146.3 L1190.6,146.3 L1190.6,158.7 L1191.3,158.7 L1191.3,150.0 L1193.8,150.0 L1193.8,155.0 L1193.8,147.1 L1194.1,147.1 L1194.1,158.4 L1194.8,158.4 L1194.8,155.0 L1197.3,155.0 L1197.3,160.0 L1197.3,147.6 L1197.6,147.6 L1197.6,160.1 L1198.3,160.1 L1198.3,160.0 L1200.8,160.0 L1200.8,160.0 L1200.8,147.0 L1201.1,147.0 L1201.1,201.6 L1201.8,201.6 L1201.8,160.0 L1204.3,160.0 L1204.3,165.0 L1204.3,150.7 L1204.6,150.7 L1204.6,199.3 L1205.3,199.3 L1205.3,165.0 L1207.8,165.0 L1207.8,165.0 L1207.8,154.0 L1208.1,154.0 L1208.1,210.4 L1208.8,210.4 L1208.8,165.0 L1211.3,165.0 L1211.3,165.0 L1211.3,162.1 L1211.6,162.1 L1211.6,204.8 L1212.3,204.8 L1212.3,165.0 L1214.8,165.0 L1214.8,170.0 L1214.8,164.9 L1215.1,164.9 L1215.1,206.4 L1215.8,206.4 L1215.8,170.0 L1218.3,170.0 L1218.3,175.0 L1218.3,161.4 L1218.6,161.4 L1218.6,200.4 L1219.3,200.4 L1219.3,175.0 L1221.8,175.0 L1221.8,175.0 L1221.8,166.2 L1222.1,166.2 L1222.1,206.9 L1222.8,206.9 L1222.8,175.0 L1225.3,175.0 L1225.3,175.0 L1225.3,172.1 L1225.6,172.1 L1225.6,202.3 L1226.3,202.3 L1226.3,175.0 L1228.8,175.0 L1228.8,180.0 L1228.8,173.5 L1229.1,173.5 L1229.1,203.0 L1229.8,203.0 L1229.8,180.0 L1232.3,180.0 L1232.3,185.0 L1232.3,172.8 L1232.6,172.8 L1232.6,209.1 L1233.3,209.1 L1233.3,185.0 L1235.8,185.0 L1235.8,185.0 L1235.8,172.0 L1236.1,172.0 L1236.1,209.4 L1236.8,209.4 L1236.8,185.0 L1239.3,185.0 L1239.3,190.0 L1239.3,182.5 L1239.6,182.5 L1239.6,206.6 L1240.3,206.6 L1240.3,190.0 L1242.8,190.0 L1242.8,190.0 L1242.8,178.3 L1243.1,178.3 L1243.1,204.3 L1243.8,204.3 L1243.8,190.0 L1246.3,190.0 L1246.3,195.0 L1246.3,186.2 L1246.6,186.2 L1246.6,209.6 L1247.3,209.6 L1247.3,195.0 L1249.8,195.0 L1249.8,195.0 L1249.8,182.6 L1250.1,182.6 L1250.1,208.8 L1250.8,208.8 L1250.8,195.0 L1253.3,195.0 L1253.3,190.0 L1254.2,190.0 L1254.2,200.0 L1255.0,200.0 L1255.0,200.0 L1255.9,200.0 L1255.9,205.3 L1256.8,205.3 L1256.8,200.0 L1257.7,200.0 L1257.7,205.0 L1258.5,205.0 L1258.5,195.0 L1259.4,195.0 L1259.4,205.0 L1260.3,205.0 L1260.3,195.0 L1261.2,195.0 L1261.2,200.0 L1262.0,200.0 L1262.0,194.5 L1262.9,194.5 L1262.9,206.9 L1263.8,206.9 L1263.8,196.8 L1264.7,196.8 L1264.7,198.7 L1265.5,198.7 L1265.5,210.0 L1266.4,210.0 L1266.4,210.0 L1267.3,210.0 L1267.3,210.0 L1268.2,210.0 L1268.2,205.0 L1269.0,205.0 L1269.0,205.0 L1269.9,205.0 L1269.9,205.0 L1270.8,205.0 L1270.8,205.0 L1271.7,205.0 L1271.7,213.2 L1272.5,213.2 L1272.5,210.0 L1273.4,210.0 L1273.4,215.0 L1274.3,215.0 L1274.3,220.0 L1275.2,220.0 L1275.2,215.0 L1276.0,215.0 L1276.0,210.0 L1276.9,210.0 L1276.9,215.0 L1277.8,215.0 L1277.8,215.0 L1278.7,215.0 L1278.7,222.3 L1279.5,222.3 L1279.5,215.0 L1280.4,215.0 L1280.4,220.0 L1281.3,220.0 L1281.3,215.0 L1282.2,215.0 L1282.2,221.8 L1283.0,221.8 L1283.0,225.0 L1283.9,225.0 L1283.9,212.6 L1284.8,212.6 L1284.8,220.0 L1285.7,220.0 L1285.7,225.0 L1286.5,225.0 L1286.5,215.0 L1287.4,215.0 L1287.4,220.0 L1288.3,220.0 L1288.3,226.2 L1289.2,226.2 L1289.2,216.2 L1290.0,216.2 L1290.0,225.0 L1290.9,225.0 L1290.9,216.1 L1291.8,216.1 L1291.8,218.3 L1292.7,218.3 L1292.7,225.0 L1293.5,225.0 L1293.5,220.0 L1294.4,220.0 L1294.4,230.0 L1295.3,230.0 L1295.3,225.0 L1296.2,225.0 L1296.2,225.0 L1297.0,225.0 L1297.0,225.0 L1297.9,225.0 L1297.9,232.5 L1298.8,232.5 L1298.8,225.0 L1299.7,225.0 L1299.7,235.0 L1300.5,235.0 L1300.5,235.0 L1301.4,235.0 L1301.4,237.7 L1302.3,237.7 L1302.3,235.0 L1303.2,235.0 L1303.2,235.0 L1304.0,235.0 L1304.0,235.0 L1304.9,235.0 L1304.9,235.0 L1305.8,235.0 L1305.8,240.0 L1306.7,240.0 L1306.7,235.0 L1307.5,235.0 L1307.5,235.0 L1308.4,235.0 L1308.4,224.7 L1309.3,224.7 L1309.3,245.0 L1310.2,245.0 L1310.2,235.0 L1311.0,235.0 L1311.0,240.0 L1311.9,240.0 L1311.9,235.0 L1312.8,235.0 L1312.8,235.0 L1313.7,235.0 L1313.7,228.7 L1314.5,228.7 L1314.5,240.0 L1315.4,240.0 L1315.4,240.0 L1316.3,240.0 L1316.3,245.0 L1317.2,245.0 L1317.2,233.1 L1318.0,233.1 L1318.0,240.0 L1318.9,240.0 L1318.9,240.0 L1319.8,240.0 L1319.8,254.0 L1320.7,254.0 L1320.7,240.0 L1321.5,240.0 L1321.5,255.0 L1322.4,255.0 L1322.4,245.0 L1323.3,245.0 L1323.3,245.0 L1324.2,245.0 L1324.2,256.0 L1325.0,256.0 L1325.0,255.0 L1325.9,255.0 L1325.9,255.0 L1326.8,255.0 L1326.8,250.0 L1327.7,250.0 L1327.7,239.3 L1328.5,239.3 L1328.5,255.0 L1329.4,255.0 L1329.4,257.9 L1330.3,257.9 L1330.3,255.0 L1330.3,248.2 L1330.6,248.2 L1330.6,262.4 L1331.3,262.4 L1331.3,255.0 L1333.8,255.0 L1333.8,255.0 L1333.8,248.9 L1334.1,248.9 L1334.1,263.6 L1334.8,263.6 L1334.8,255.0 L1337.3,255.0 L1337.3,255.0 L1337.3,252.1 L1337.6,252.1 L1337.6,261.7 L1338.3,261.7 L1338.3,255.0 L1340.8,255.0 L1340.8,260.0 L1340.8,256.9 L1341.1,256.9 L1341.1,270.1 L1341.8,270.1 L1341.8,260.0 L1344.3,260.0 L1344.3,260.0 L1344.3,259.0 L1344.6,259.0 L1344.6,271.0 L1345.3,271.0 L1345.3,260.0 L1347.8,260.0 L1347.8,265.0 L1347.8,255.8 L1348.1,255.8 L1348.1,305.1 L1348.8,305.1 L1348.8,265.0 L1351.3,265.0 L1351.3,270.0 L1351.3,255.3 L1351.6,255.3 L1351.6,303.1 L1352.3,303.1 L1352.3,270.0 L1354.8,270.0 L1354.8,270.0 L1354.8,258.3 L1355.1,258.3 L1355.1,306.1 L1355.8,306.1 L1355.8,270.0 L1358.3,270.0 L1358.3,275.0 L1358.3,266.7 L1358.6,266.7 L1358.6,309.6 L1359.3,309.6 L1359.3,275.0 L1361.8,275.0 L1361.8,275.0 L1361.8,265.9 L1362.1,265.9 L1362.1,313.0 L1362.8,313.0 L1362.8,275.0 L1365.3,275.0 L1365.3,280.0 L1365.3,267.9 L1365.6,267.9 L1365.6,313.3 L1366.3,313.3 L1366.3,280.0 L1368.8,280.0 L1368.8,280.0 L1368.8,270.4 L1369.1,270.4 L1369.1,309.6 L1369.8,309.6 L1369.8,280.0 L1372.3,280.0 L1372.3,290.0 L1372.3,273.0 L1372.6,273.0 L1372.6,311.8 L1373.3,311.8 L1373.3,290.0 L1375.8,290.0 L1375.8,290.0 L1375.8,271.9 L1376.1,271.9 L1376.1,312.4 L1376.8,312.4 L1376.8,290.0 L1379.3,290.0 L1379.3,290.0 L1379.3,276.7 L1379.6,276.7 L1379.6,309.2 L1380.3,309.2 L1380.3,290.0 L1382.8,290.0 L1382.8,295.0 L1382.8,285.3 L1383.1,285.3 L1383.1,309.7 L1383.8,309.7 L1383.8,295.0 L1386.3,295.0 L1386.3,295.0 L1386.3,281.6 L1386.6,281.6 L1386.6,313.2 L1387.3,313.2 L1387.3,295.0 L1389.8,295.0 L1389.8,295.0 L1389.8,287.1 L1390.1,287.1 L1390.1,312.0 L1390.8,312.0 L1390.8,295.0 L1393.3,295.0 L1393.3,300.0 L1393.3,284.2 L1393.6,284.2 L1393.6,309.8 L1394.3,309.8 L1394.3,300.0 L1396.8,300.0 L1396.8,295.0 L1396.8,292.9 L1397.1,292.9 L1397.1,302.4 L1397.8,302.4 L1397.8,295.0 L1400.3,295.0 L1400.3,305.0 L1400.3,296.1 L1400.6,296.1 L1400.6,306.1 L1401.3,306.1 L1401.3,305.0 L1403.8,305.0 L1403.8,305.0 L1403.8,299.9 L1404.1,299.9 L1404.1,310.1 L1404.8,310.1 L1404.8,305.0 L1407.3,305.0 L1407.3,305.0 L1407.3,304.0 L1407.6,304.0 L1407.6,312.6 L1408.3,312.6 L1408.3,305.0 L1410.8,305.0 L1410.8,315.0 L1411.7,315.0 L1411.7,300.0 L1412.5,300.0 L1412.5,310.0 L1413.4,310.0 L1413.4,310.0 L1414.3,310.0 L1414.3,315.0 L1415.2,315.0 L1415.2,315.0 L1416.0,315.0 L1416.0,315.0 L1416.9,315.0 L1416.9,306.1 L1417.8,306.1 L1417.8,320.0 L1418.7,320.0 L1418.7,305.8 L1419.5,305.8 L1419.5,310.0 L1420.4,310.0 L1420.4,315.0 L1421.3,315.0 L1421.3,323.5 L1422.2,323.5 L1422.2,320.0 L1423.0,320.0 L1423.0,325.5 L1423.9,325.5 L1423.9,320.0 L1424.8,320.0 L1424.8,320.0 L1425.7,320.0 L1425.7,325.0 L1426.5,325.0 L1426.5,320.0 L1427.4,320.0 L1427.4,325.0 L1428.3,325.0 L1428.3,325.0 L1429.2,325.0 L1429.2,325.0 L1430.0,325.0 L1430.0,320.0 L1430.9,320.0 L1430.9,325.0 L1431.8,325.0 L1431.8,316.3 L1432.7,316.3 L1432.7,330.0 L1433.5,330.0 L1433.5,330.0 L1434.4,330.0 L1434.4,325.0 L1435.3,325.0 L1435.3,315.7 L1436.2,315.7 L1436.2,330.0 L1437.0,330.0 L1437.0,335.0 L1437.9,335.0 L1437.9,330.0 L1438.8,330.0 L1438.8,335.0 L1439.7,335.0 L1439.7,339.7 L1440.5,339.7 L1440.5,335.0 L1441.4,335.0 L1441.4,335.0 L1442.3,335.0 L1442.3,325.0 L1443.2,325.0 L1443.2,330.0 L1444.0,330.0 L1444.0,325.5 L1444.9,325.5 L1444.9,341.2 L1445.8,341.2 L1445.8,325.0 L1446.7,325.0 L1446.7,340.0 L1447.5,340.0 L1447.5,335.0 L1448.4,335.0 L1448.4,340.0 L1449.3,340.0 L1449.3,335.0 L1450.2,335.0 L1450.2,340.0 L1451.0,340.0 L1451.0,345.0 L1451.9,345.0 L1451.9,335.0 L1452.8,335.0 L1452.8,345.0 L1453.7,345.0 L1453.7,340.0 L1454.5,340.0 L1454.5,335.0 L1455.4,335.0 L1455.4,351.0 L1456.3,351.0 L1456.3,350.0 L1457.2,350.0 L1457.2,340.0 L1458.0,340.0 L1458.0,345.0 L1458.9,345.0 L1458.9,332.6 L1459.8,332.6 L1459.8,345.0 L1460.7,345.0 L1460.7,352.5 L1461.5,352.5 L1461.5,350.0 L1462.4,350.0 L1462.4,350.0 L1463.3,350.0 L1463.3,340.0 L1464.2,340.0 L1464.2,345.0 L1465.0,345.0 L1465.0,350.0 L1465.9,350.0 L1465.9,350.0 L1466.8,350.0 L1466.8,350.0 L1467.7,350.0 L1467.7,350.0 L1468.5,350.0 L1468.5,350.0 L1469.4,350.0 L1469.4,350.0 L1470.3,350.0 L1470.3,355.0 L1470.3,338.8 L1470.6,338.8 L1470.6,404.8 L1471.3,404.8 L1471.3,355.0 L1473.8,355.0 L1473.8,345.0 L1473.8,346.0 L1474.1,346.0 L1474.1,412.8 L1474.8,412.8 L1474.8,345.0 L1477.3,345.0 L1477.3,355.0 L1477.3,349.9 L1477.6,349.9 L1477.6,400.7 L1478.3,400.7 L1478.3,355.0 L1480.8,355.0 L1480.8,355.0 L1480.8,350.1 L1481.1,350.1 L1481.1,410.3 L1481.8,410.3 L1481.8,355.0 L1484.3,355.0 L1484.3,360.0 L1484.3,349.5 L1484.6,349.5 L1484.6,416.0 L1485.3,416.0 L1485.3,360.0 L1487.8,360.0 L1487.8,360.0 L1487.8,356.9 L1488.1,356.9 L1488.1,414.0 L1488.8,414.0 L1488.8,360.0 L1491.3,360.0 L1491.3,370.0 L1491.3,352.9 L1491.6,352.9 L1491.6,404.6 L1492.3,404.6 L1492.3,370.0 L1494.8,370.0 L1494.8,370.0 L1494.8,364.7 L1495.1,364.7 L1495.1,408.0 L1495.8,408.0 L1495.8,370.0 L1498.3,370.0 L1498.3,375.0 L1498.3,365.2 L1498.6,365.2 L1498.6,408.3 L1499.3,408.3 L1499.3,375.0 L1501.8,375.0 L1501.8,375.0 L1501.8,369.7 L1502.1,369.7 L1502.1,404.2 L1502.8,404.2 L1502.8,375.0 L1505.3,375.0 L1505.3,380.0 L1505.3,373.2 L1505.6,373.2 L1505.6,415.6 L1506.3,415.6 L1506.3,380.0 L1508.8,380.0 L1508.8,380.0 L1508.8,364.0 L1509.1,364.0 L1509.1,413.4 L1509.8,413.4 L1509.8,380.0 L1512.3,380.0 L1512.3,380.0 L1512.3,376.9 L1512.6,376.9 L1512.6,408.7 L1513.3,408.7 L1513.3,380.0 L1515.8,380.0 L1515.8,385.0 L1515.8,380.0 L1516.1,380.0 L1516.1,414.8 L1516.8,414.8 L1516.8,385.0 L1519.3,385.0 L1519.3,390.0 L1519.3,374.1 L1519.6,374.1 L1519.6,409.1 L1520.3,409.1 L1520.3,390.0 L1522.8,390.0 L1522.8,390.0 L1522.8,376.0 L1523.1,376.0 L1523.1,410.2 L1523.8,410.2 L1523.8,390.0 L1526.3,390.0 L1526.3,390.0 L1526.3,386.7 L1526.6,386.7 L1526.6,411.2 L1527.3,411.2 L1527.3,390.0 L1529.8,390.0 L1529.8,390.0 L1529.8,389.9 L1530.1,389.9 L1530.1,411.8 L1530.8,411.8 L1530.8,390.0 L1533.3,390.0 L1533.3,400.0 L1533.3,382.7 L1533.6,382.7 L1533.6,410.6 L1534.3,410.6 L1534.3,400.0 L1536.8,400.0 L1536.8,400.0 L1536.8,391.9 L1537.1,391.9 L1537.1,413.6 L1537.8,413.6 L1537.8,400.0 L1540.3,400.0 L1540.3,400.0 L1540.3,395.7 L1540.6,395.7 L1540.6,410.4 L1541.3,410.4 L1541.3,400.0 L1543.8,400.0 L1543.8,405.0 L1543.8,401.0 L1544.1,401.0 L1544.1,407.5 L1544.8,407.5 L1544.8,405.0 L1547.3,405.0 L1547.3,405.0 L1547.3,404.3 L1547.6,404.3 L1547.6,415.0 L1548.3,415.0 L1548.3,405.0 L1550.8,405.0 L1550.8,410.0 L1550.8,406.4 L1551.1,406.4 L1551.1,417.5 L1551.8,417.5 L1551.8,410.0 L1554.3,410.0 L1554.3,415.0 L1554.3,404.9 L1554.6,404.9 L1554.6,417.0 L1555.3,417.0 L1555.3,415.0 L1557.8,415.0 L1557.8,420.0 L1558.7,420.0 L1558.7,407.5 L1559.5,407.5 L1559.5,420.0 L1560.4,420.0 L1560.4,415.0 L1561.3,415.0 L1561.3,410.4 L1562.2,410.4 L1562.2,415.0 L1563.0,415.0 L1563.0,415.0 L1563.9,415.0 L1563.9,420.0 L1564.8,420.0 L1564.8,425.0 L1565.7,425.0 L1565.7,420.0 L1566.5,420.0 L1566.5,425.0 L1567.4,425.0 L1567.4,425.2 L1568.3,425.2 L1568.3,413.2 L1569.2,413.2 L1569.2,420.0 L1570.0,420.0 L1570.0,430.0 L1570.9,430.0 L1570.9,420.0 L1571.8,420.0 L1571.8,420.0 L1572.7,420.0 L1572.7,419.2 L1573.5,419.2 L1573.5,425.0 L1574.4,425.0 L1574.4,420.0 L1575.3,420.0 L1575.3,435.0 L1576.2,435.0 L1576.2,435.0 L1577.0,435.0 L1577.0,430.0 L1577.9,430.0 L1577.9,425.0 L1578.8,425.0 L1578.8,435.0 L1579.7,435.0 L1579.7,435.0 L1580.5,435.0 L1580.5,435.0 L1581.4,435.0 L1581.4,430.0 L1582.3,430.0 L1582.3,436.4 L1583.2,436.4 L1583.2,430.0 L1584.0,430.0 L1584.0,430.0 L1584.9,430.0 L1584.9,428.6 L1585.8,428.6 L1585.8,430.0 L1586.7,430.0 L1586.7,441.0 L1587.5,441.0 L1587.5,428.8 L1588.4,428.8 L1588.4,440.7 L1589.3,440.7 L1589.3,427.9 L1590.2,427.9 L1590.2,435.0 L1591.0,435.0 L1591.0,441.9 L1591.9,441.9 L1591.9,431.2 L1592.8,431.2 L1592.8,435.0 L1593.7,435.0 L1593.7,445.0 L1594.5,445.0 L1594.5,435.0 L1595.4,435.0 L1595.4,446.0 L1596.3,446.0 L1596.3,435.9 L1597.2,435.9 L1597.2,448.3 L1598.0,448.3 L1598.0,437.5 L1598.9,437.5 L1598.9,445.0 L1599.8,445.0 L1599.8,440.0 L1600.7,440.0 L1600.7,450.0 L1601.5,450.0 L1601.5,450.0 L1602.4,450.0 L1602.4,445.0 L1603.3,445.0 L1603.3,450.0 L1604.2,450.0 L1604.2,445.0 L1605.0,445.0 L1605.0,455.0 L1605.9,455.0 L1605.9,445.0 L1606.8,445.0 L1606.8,460.0 L1607.7,460.0 L1607.7,455.0 L1608.5,455.0 L1608.5,445.0 L1609.4,445.0 L1609.4,450.0 L1610.3,450.0 L1610.3,455.0 L1610.3,448.6 L1610.6,448.6 L1610.6,457.2 L1611.3,457.2 L1611.3,455.0 L1613.8,455.0 L1613.8,455.0 L1613.8,447.4 L1614.1,447.4 L1614.1,468.5 L1614.8,468.5 L1614.8,455.0 L1617.3,455.0 L1617.3,455.0 L1617.3,446.8 L1617.6,446.8 L1617.6,465.2 L1618.3,465.2 L1618.3,455.0 L1620.8,455.0 L1620.8,455.0 L1620.8,449.1 L1621.1,449.1 L1621.1,468.0 L1621.8,468.0 L1621.8,455.0 L1624.3,455.0 L1624.3,460.0 L1624.3,450.2 L1624.6,450.2 L1624.6,477.1 L1625.3,477.1 L1625.3,460.0 L1627.8,460.0 L1627.8,465.0 L1627.8,460.6 L1628.1,460.6 L1628.1,478.6 L1628.8,478.6 L1628.8,465.0 L1631.3,465.0 L1631.3,475.0 L1631.3,453.9 L1631.6,453.9 L1631.6,480.1 L1632.3,480.1 L1632.3,475.0 L1634.8,475.0 L1634.8,465.0 L1634.8,457.6 L1635.1,457.6 L1635.1,480.1 L1635.8,480.1 L1635.8,465.0 L1638.3,465.0 L1638.3,475.0 L1638.3,459.8 L1638.6,459.8 L1638.6,482.9 L1639.3,482.9 L1639.3,475.0 L1641.8,475.0 L1641.8,475.0 L1641.8,465.6 L1642.1,465.6 L1642.1,504.0 L1642.8,504.0 L1642.8,475.0 L1645.3,475.0 L1645.3,480.0 L1645.3,468.0 L1645.6,468.0 L1645.6,507.7 L1646.3,507.7 L1646.3,480.0 L1648.8,480.0 L1648.8,480.0 L1648.8,466.2 L1649.1,466.2 L1649.1,509.0 L1649.8,509.0 L1649.8,480.0 L1652.3,480.0 L1652.3,485.0 L1652.3,466.5 L1652.6,466.5 L1652.6,508.7 L1653.3,508.7 L1653.3,485.0 L1655.8,485.0 L1655.8,485.0 L1655.8,480.5 L1656.1,480.5 L1656.1,502.8 L1656.8,502.8 L1656.8,485.0 L1659.3,485.0 L1659.3,490.0 L1659.3,479.0 L1659.6,479.0 L1659.6,509.6 L1660.3,509.6 L1660.3,490.0 L1662.8,490.0 L1662.8,490.0 L1662.8,476.2 L1663.1,476.2 L1663.1,505.6 L1663.8,505.6 L1663.8,490.0 L1666.3,490.0 L1666.3,495.0 L1666.3,476.7 L1666.6,476.7 L1666.6,509.6 L1667.3,509.6 L1667.3,495.0 L1669.8,495.0 L1669.8,500.0 L1669.8,484.6 L1670.1,484.6 L1670.1,508.1 L1670.8,508.1 L1670.8,500.0 L1673.3,500.0 L1673.3,500.0 L1673.3,487.0 L1673.6,487.0 L1673.6,510.1 L1674.3,510.1 L1674.3,500.0 L1676.8,500.0 L1676.8,500.0 L1676.8,491.7 L1677.1,491.7 L1677.1,509.2 L1677.8,509.2 L1677.8,500.0 L1680.3,500.0 L1680.3,500.0 L1680.3,493.6 L1680.6,493.6 L1680.6,509.8 L1681.3,509.8 L1681.3,500.0 L1683.8,500.0 L1683.8,505.0 L1683.8,489.4 L1684.1,489.4 L1684.1,508.4 L1684.8,508.4 L1684.8,505.0 L1687.3,505.0 L1687.3,505.0 L1687.3,490.7 L1687.6,490.7 L1687.6,511.0 L1688.3,511.0 L1688.3,505.0 L1690.8,505.0 L1690.8,510.0 L1690.8,504.6 L1691.1,504.6 L1691.1,514.1 L1691.8,514.1 L1691.8,510.0 L1694.3,510.0 L1694.3,510.0 L1694.3,498.7 L1694.6,498.7 L1694.6,517.1 L1695.3,517.1 L1695.3,510.0 L1697.8,510.0 L1697.8,515.0 L1697.8,509.3 L1698.1,509.3 L1698.1,519.5 L1698.3,519.5 L1698.3,515.0 L1698.3,515.0" fill="none" stroke="#0072bd" stroke-width="1.7" stroke-linejoin="miter"/>
<line x1="1053.8" y1="36.1" x2="1698.3" y2="497.0" stroke="#ff00ff" stroke-width="2.2" stroke-dasharray="6.8 7.2"/>
<line x1="1053.8" y1="70.9" x2="1698.3" y2="531.5" stroke="#ff00ff" stroke-width="2.2" stroke-dasharray="6.8 7.2"/>
<line x1="1053.8" y1="53.1" x2="1698.3" y2="514.1" stroke="#ff0000" stroke-width="4.0" stroke-linecap="butt"/>
<rect x="396.2" y="35.4" width="413.1" height="113.1" fill="#fff" stroke="#262626" stroke-width="1.3"/>
<line x1="401.5" y1="55.0" x2="454" y2="55.0" stroke="#77ac30" stroke-width="2.4"/>
<text class="leg" x="458.2" y="66.0">Calculated velocity [mm/s]</text>
<line x1="401.5" y1="92.0" x2="454" y2="92.0" stroke="#ff0000" stroke-width="4.0"/>
<text class="leg" x="458.2" y="103.0">Linear fit</text>
<line x1="401.5" y1="128.4" x2="454" y2="128.4" stroke="#ff00ff" stroke-width="2.2" stroke-dasharray="6.8 7.2"/>
<text class="leg" x="458.2" y="141.0">95% Prediction interval</text>
<rect x="1351.5" y="35.5" width="369.3" height="112.6" fill="#fff" stroke="#262626" stroke-width="1.3"/>
<line x1="1357.3" y1="55.0" x2="1409.8" y2="55.0" stroke="#0072bd" stroke-width="2.4"/>
<text class="leg" x="1414.4" y="66.0">LVT signal [V]</text>
<line x1="1357.3" y1="92.0" x2="1409.8" y2="92.0" stroke="#ff0000" stroke-width="4.0"/>
<text class="leg" x="1414.4" y="103.0">Linear fit</text>
<line x1="1357.3" y1="128.4" x2="1409.8" y2="128.4" stroke="#ff00ff" stroke-width="2.2" stroke-dasharray="6.8 7.2"/>
<text class="leg" x="1414.4" y="141.0">95% Prediction interval</text>
<line x1="285.7" y1="541.4" x2="285.7" y2="534.4" stroke="#262626" stroke-width="1.5"/>
<line x1="285.7" y1="20.8" x2="285.7" y2="27.8" stroke="#262626" stroke-width="1.5"/>
<line x1="465.0" y1="541.4" x2="465.0" y2="534.4" stroke="#262626" stroke-width="1.5"/>
<line x1="465.0" y1="20.8" x2="465.0" y2="27.8" stroke="#262626" stroke-width="1.5"/>
<line x1="644.3" y1="541.4" x2="644.3" y2="534.4" stroke="#262626" stroke-width="1.5"/>
<line x1="644.3" y1="20.8" x2="644.3" y2="27.8" stroke="#262626" stroke-width="1.5"/>
<line x1="106.4" y1="454.6" x2="113.4" y2="454.6" stroke="#262626" stroke-width="1.5"/>
<line x1="823.6" y1="454.6" x2="816.6" y2="454.6" stroke="#262626" stroke-width="1.5"/>
<line x1="106.4" y1="367.9" x2="113.4" y2="367.9" stroke="#262626" stroke-width="1.5"/>
<line x1="823.6" y1="367.9" x2="816.6" y2="367.9" stroke="#262626" stroke-width="1.5"/>
<line x1="106.4" y1="281.1" x2="113.4" y2="281.1" stroke="#262626" stroke-width="1.5"/>
<line x1="823.6" y1="281.1" x2="816.6" y2="281.1" stroke="#262626" stroke-width="1.5"/>
<line x1="106.4" y1="194.3" x2="113.4" y2="194.3" stroke="#262626" stroke-width="1.5"/>
<line x1="823.6" y1="194.3" x2="816.6" y2="194.3" stroke="#262626" stroke-width="1.5"/>
<line x1="106.4" y1="107.6" x2="113.4" y2="107.6" stroke="#262626" stroke-width="1.5"/>
<line x1="823.6" y1="107.6" x2="816.6" y2="107.6" stroke="#262626" stroke-width="1.5"/>
<rect x="106.4" y="20.8" width="717.2" height="520.6" fill="none" stroke="#262626" stroke-width="1.6"/>
<text class="tk" x="93.9" y="554.2" text-anchor="end">-15</text>
<text class="tk" x="93.9" y="467.4" text-anchor="end">-10</text>
<text class="tk" x="93.9" y="380.7" text-anchor="end">-5</text>
<text class="tk" x="93.9" y="293.9" text-anchor="end">0</text>
<text class="tk" x="93.9" y="207.1" text-anchor="end">5</text>
<text class="tk" x="93.9" y="120.4" text-anchor="end">10</text>
<text class="tk" x="93.9" y="33.6" text-anchor="end">15</text>
<text class="tk" x="106.4" y="584.5" text-anchor="middle">0.04</text>
<text class="tk" x="285.7" y="584.5" text-anchor="middle">0.045</text>
<text class="tk" x="465.0" y="584.5" text-anchor="middle">0.05</text>
<text class="tk" x="644.3" y="584.5" text-anchor="middle">0.055</text>
<text class="tk" x="823.6" y="584.5" text-anchor="middle">0.06</text>
<text class="lab" x="465.0" y="630.5" text-anchor="middle">Time [s]</text>
<text class="lab" transform="translate(33.7,280.5) rotate(-90)" x="0" y="0" text-anchor="middle">Velocity [mm/s]</text>
<text class="let" x="442.9" y="694" text-anchor="middle">(a)</text>
<line x1="1197.2" y1="541.4" x2="1197.2" y2="534.4" stroke="#262626" stroke-width="1.5"/>
<line x1="1197.2" y1="20.8" x2="1197.2" y2="27.8" stroke="#262626" stroke-width="1.5"/>
<line x1="1376.3" y1="541.4" x2="1376.3" y2="534.4" stroke="#262626" stroke-width="1.5"/>
<line x1="1376.3" y1="20.8" x2="1376.3" y2="27.8" stroke="#262626" stroke-width="1.5"/>
<line x1="1555.3" y1="541.4" x2="1555.3" y2="534.4" stroke="#262626" stroke-width="1.5"/>
<line x1="1555.3" y1="20.8" x2="1555.3" y2="27.8" stroke="#262626" stroke-width="1.5"/>
<line x1="1018.1" y1="411.3" x2="1025.1" y2="411.3" stroke="#262626" stroke-width="1.5"/>
<line x1="1734.4" y1="411.3" x2="1727.4" y2="411.3" stroke="#262626" stroke-width="1.5"/>
<line x1="1018.1" y1="281.1" x2="1025.1" y2="281.1" stroke="#262626" stroke-width="1.5"/>
<line x1="1734.4" y1="281.1" x2="1727.4" y2="281.1" stroke="#262626" stroke-width="1.5"/>
<line x1="1018.1" y1="151.0" x2="1025.1" y2="151.0" stroke="#262626" stroke-width="1.5"/>
<line x1="1734.4" y1="151.0" x2="1727.4" y2="151.0" stroke="#262626" stroke-width="1.5"/>
<rect x="1018.1" y="20.8" width="716.3" height="520.6" fill="none" stroke="#262626" stroke-width="1.6"/>
<text class="tk" x="1005.6" y="554.2" text-anchor="end">-0.4</text>
<text class="tk" x="1005.6" y="424.1" text-anchor="end">-0.2</text>
<text class="tk" x="1005.6" y="293.9" text-anchor="end">0</text>
<text class="tk" x="1005.6" y="163.8" text-anchor="end">0.2</text>
<text class="tk" x="1005.6" y="33.6" text-anchor="end">0.4</text>
<text class="tk" x="1018.1" y="584.5" text-anchor="middle">0.04</text>
<text class="tk" x="1197.2" y="584.5" text-anchor="middle">0.045</text>
<text class="tk" x="1376.3" y="584.5" text-anchor="middle">0.05</text>
<text class="tk" x="1555.3" y="584.5" text-anchor="middle">0.055</text>
<text class="tk" x="1734.4" y="584.5" text-anchor="middle">0.06</text>
<text class="lab" x="1376.2" y="630.5" text-anchor="middle">Time [s]</text>
<text class="lab" transform="translate(937,280.4) rotate(-90)" x="0" y="0" text-anchor="middle">Voltage [V]</text>
<text class="let" x="1354" y="694" text-anchor="middle">(b)</text>
</svg>
</body></html>
